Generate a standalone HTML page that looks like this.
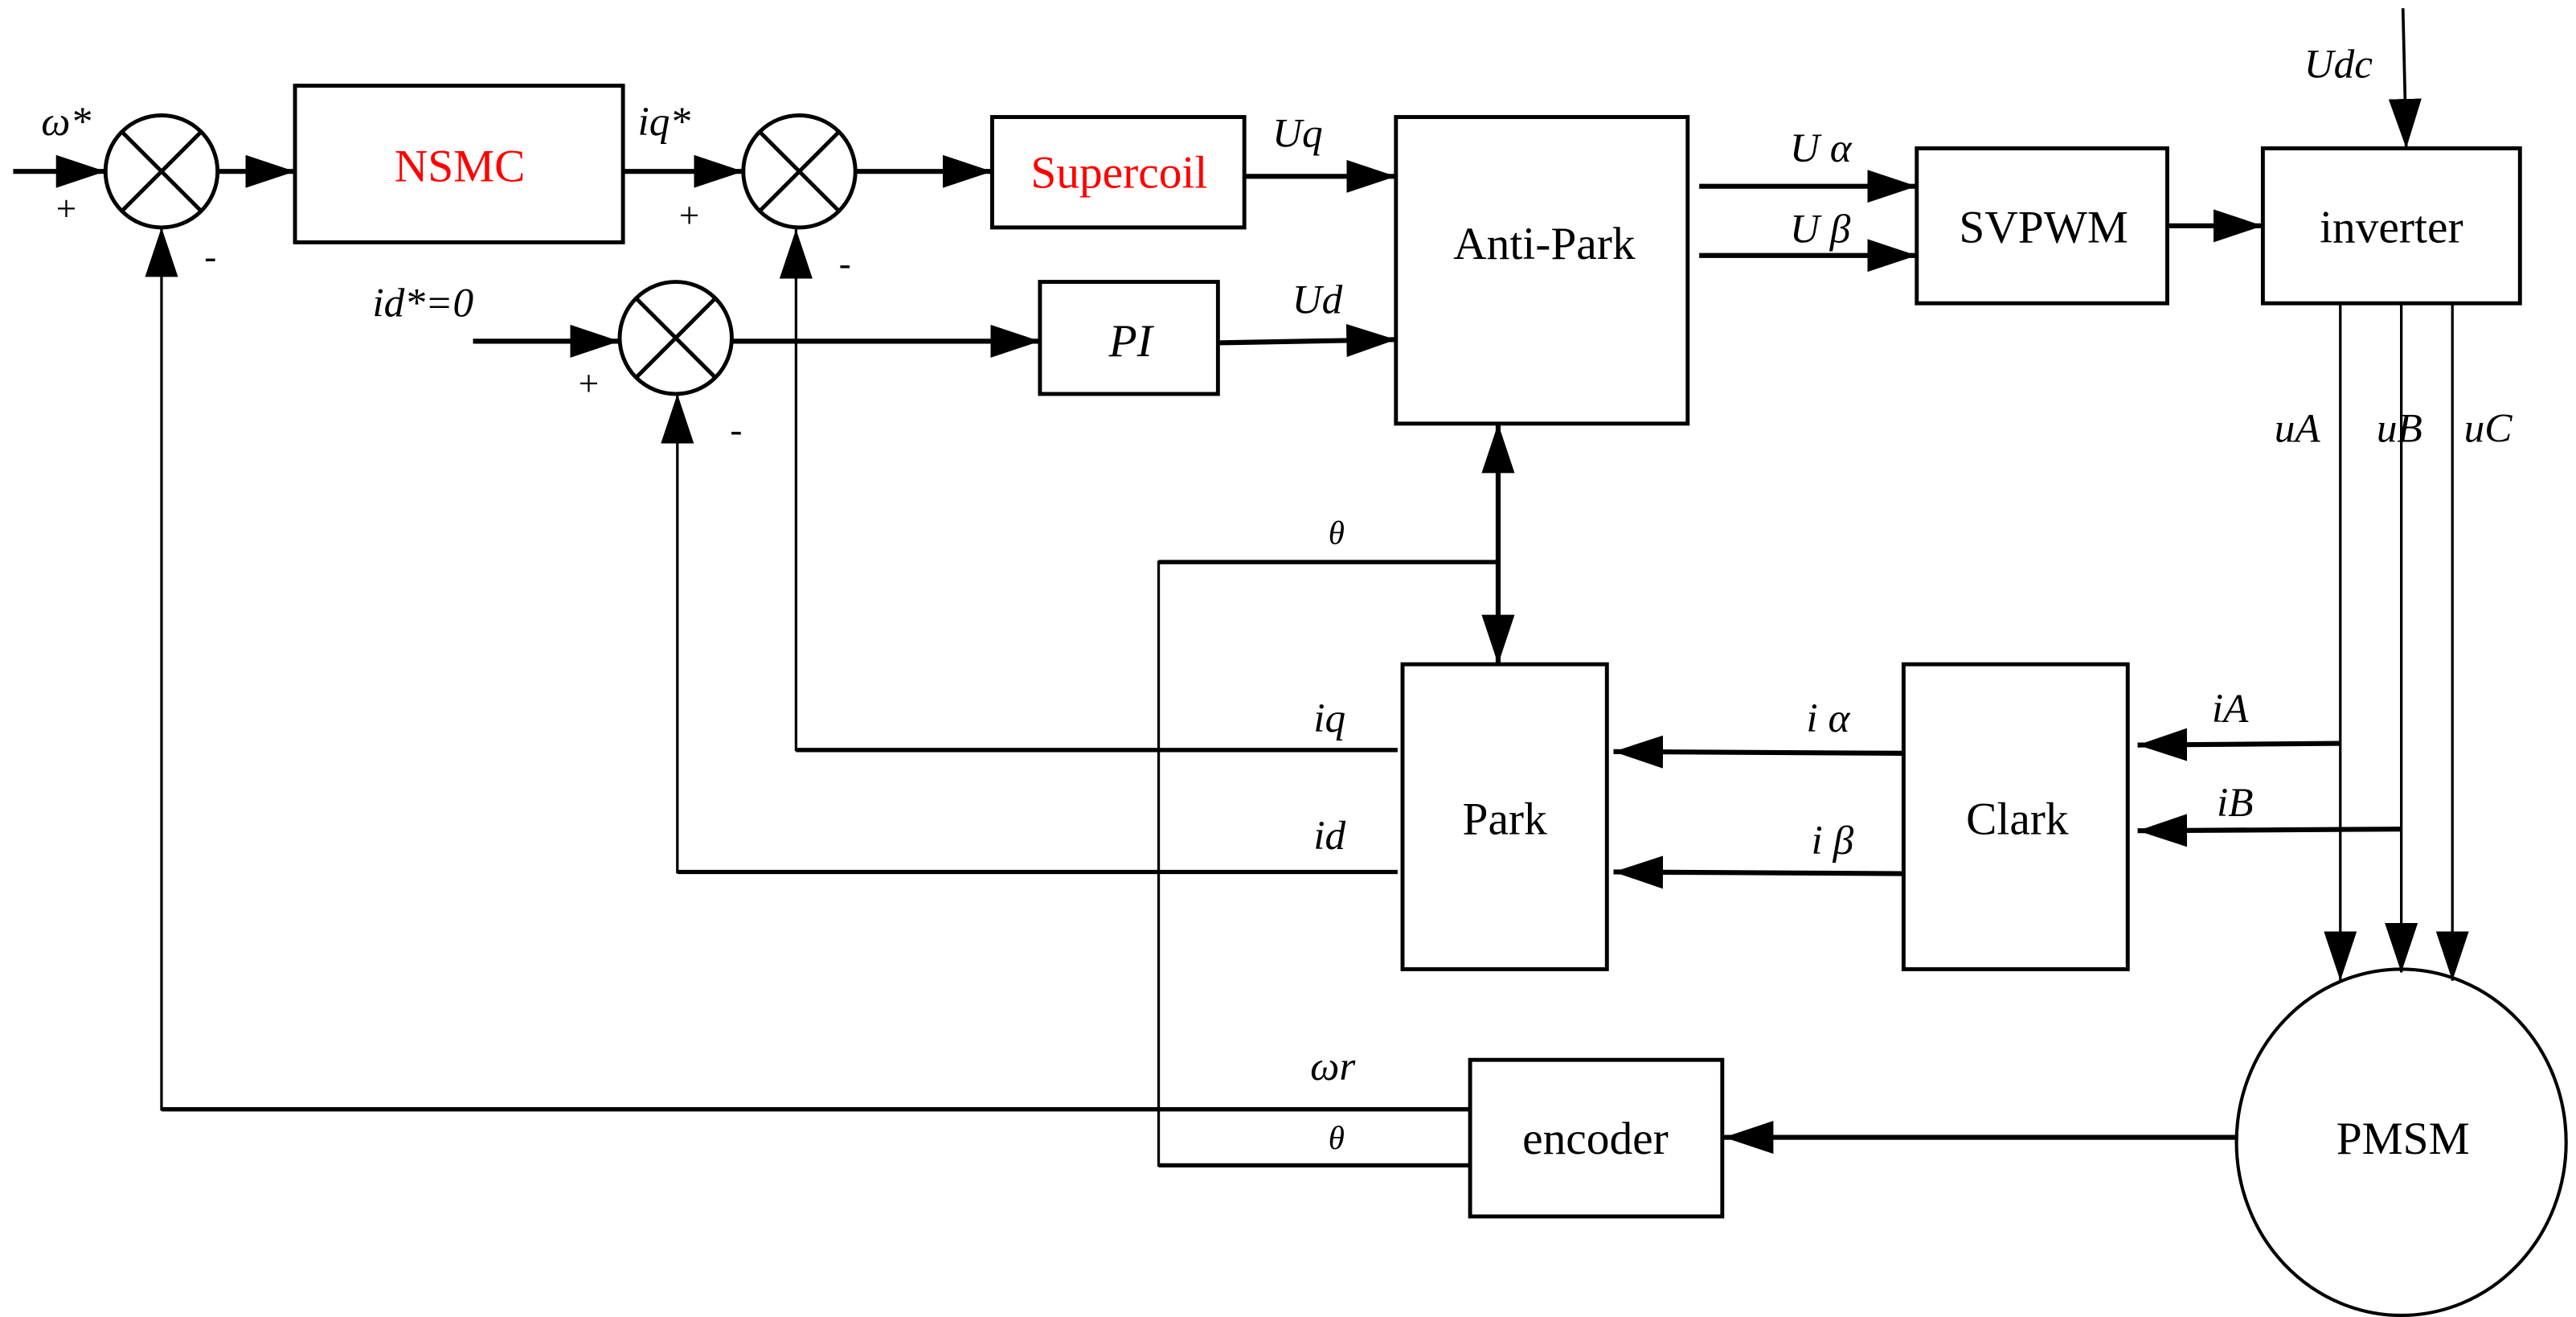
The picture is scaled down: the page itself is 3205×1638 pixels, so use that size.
<!DOCTYPE html>
<html><head><meta charset="utf-8"><style>
html,body{margin:0;padding:0;background:#fff;}
svg{display:block;}
text{font-family:"Liberation Serif",serif;}
.i{font-style:italic;}
</style></head><body>
<svg width="3205" height="1638" viewBox="0 0 1563 799" preserveAspectRatio="none" xmlns="http://www.w3.org/2000/svg">
<defs>
<marker id="a" markerWidth="30" markerHeight="20" refX="30" refY="10" orient="auto" markerUnits="userSpaceOnUse">
<path d="M0,0 L30,10 L0,20 Z" fill="#000"/></marker>
<marker id="b" markerWidth="30" markerHeight="20" refX="0" refY="10" orient="auto" markerUnits="userSpaceOnUse">
<path d="M30,0 L0,10 L30,20 Z" fill="#000"/></marker>
</defs>
<g fill="none" stroke="#000">
<g stroke-width="2.4">
<rect x="179" y="52" width="199" height="95"/>
<rect x="602" y="71" width="153" height="67"/>
<rect x="631" y="171" width="108" height="68"/>
<rect x="847" y="71" width="177" height="186"/>
<rect x="1163" y="90" width="152" height="94"/>
<rect x="1373" y="90" width="156" height="94"/>
<rect x="851" y="403" width="124" height="185"/>
<rect x="1155" y="403" width="136" height="185"/>
<rect x="892" y="643" width="153" height="95"/>
<ellipse cx="1457" cy="693" rx="100" ry="105" stroke-width="2"/>
</g>
<g stroke-width="2.4">
<circle cx="98" cy="104" r="34"/>
<line x1="74" y1="80" x2="122" y2="128"/><line x1="122" y1="80" x2="74" y2="128"/>
<circle cx="485" cy="104" r="34"/>
<line x1="461" y1="80" x2="509" y2="128"/><line x1="509" y1="80" x2="461" y2="128"/>
<circle cx="410" cy="205" r="34"/>
<line x1="386" y1="181" x2="434" y2="229"/><line x1="434" y1="181" x2="386" y2="229"/>
</g>
<g stroke-width="3" marker-end="url(#a)">
<line x1="8" y1="104" x2="64" y2="104"/>
<line x1="132" y1="104" x2="179" y2="104"/>
<line x1="378" y1="104" x2="451" y2="104"/>
<line x1="519" y1="104" x2="602" y2="104"/>
<line x1="755" y1="107" x2="847" y2="107"/>
<line x1="287" y1="207" x2="376" y2="207"/>
<line x1="444" y1="207" x2="631" y2="207"/>
<line x1="739" y1="208" x2="847" y2="206"/>
<line x1="1031" y1="113" x2="1163" y2="113"/>
<line x1="1031" y1="155" x2="1163" y2="155"/>
<line x1="1315" y1="137" x2="1373" y2="137"/>
<line x1="1155" y1="457" x2="979" y2="456"/>
<line x1="1155" y1="530" x2="979" y2="529"/>
<line x1="1420" y1="451" x2="1297" y2="452"/>
<line x1="1457" y1="503" x2="1297" y2="504"/>
<line x1="1357" y1="690" x2="1046" y2="690"/>
</g>
<line x1="909" y1="257" x2="909" y2="403" stroke-width="3" marker-start="url(#b)" marker-end="url(#a)"/>
<line x1="1458" y1="5" x2="1460" y2="90" stroke-width="1.8" marker-end="url(#a)"/>
<g stroke-width="1.6">
<polyline points="1420,184 1420,595" marker-end="url(#a)"/>
<polyline points="1457,184 1457,590" marker-end="url(#a)"/>
<polyline points="1488,184 1488,595" marker-end="url(#a)"/>
<polyline points="848,455 483,455 483,139" marker-end="url(#a)"/>
<polyline points="848,529 411,529 411,239" marker-end="url(#a)"/>
<polyline points="892,673 98,673 98,138" marker-end="url(#a)"/>
<polyline points="909,341 703,341 703,707 892,707"/>
</g>
<g stroke-width="2.6">
<line x1="703" y1="341" x2="909" y2="341"/>
<line x1="483" y1="455" x2="848" y2="455"/>
<line x1="411" y1="529" x2="848" y2="529"/>
<line x1="98" y1="673" x2="892" y2="673"/>
<line x1="703" y1="707" x2="892" y2="707"/>
</g>
</g>
<g font-size="28" text-anchor="middle">
<text x="279" y="110" fill="#f00">NSMC</text>
<text x="679" y="114" fill="#f00">Supercoil</text>
<text x="686" y="216" class="i">PI</text>
<text x="937" y="157">Anti-Park</text>
<text x="1240" y="147">SVPWM</text>
<text x="1451" y="147">inverter</text>
<text x="913" y="506">Park</text>
<text x="1224" y="506">Clark</text>
<text x="968" y="700">encoder</text>
<text x="1458" y="700">PMSM</text>
</g>
<g font-size="25" class="i">
<text x="25" y="82">ω*</text>
<text x="387" y="82">iq*</text>
<text x="226" y="192">id*=0</text>
<text x="772" y="89">Uq</text>
<text x="784" y="190">Ud</text>
<text x="1086" y="98">U α</text>
<text x="1086" y="147">U β</text>
<text x="1398" y="47">Udc</text>
<text x="1380" y="268">uA</text>
<text x="1442" y="268">uB</text>
<text x="1495" y="268">uC</text>
<text x="806" y="330" font-size="20">θ</text>
<text x="797" y="444">iq</text>
<text x="797" y="515">id</text>
<text x="1096" y="444">i α</text>
<text x="1099" y="518">i β</text>
<text x="1342" y="438">iA</text>
<text x="1345" y="495">iB</text>
<text x="795" y="655">ωr</text>
<text x="806" y="697" font-size="20">θ</text>
</g>
<g font-size="22" font-family="Liberation Sans, sans-serif">
<text x="34" y="134">+</text>
<text x="412" y="138">+</text>
<text x="351" y="240">+</text>
<text x="124" y="163">-</text>
<text x="509" y="167">-</text>
<text x="443" y="268">-</text>
</g>
</svg>
</body></html>
